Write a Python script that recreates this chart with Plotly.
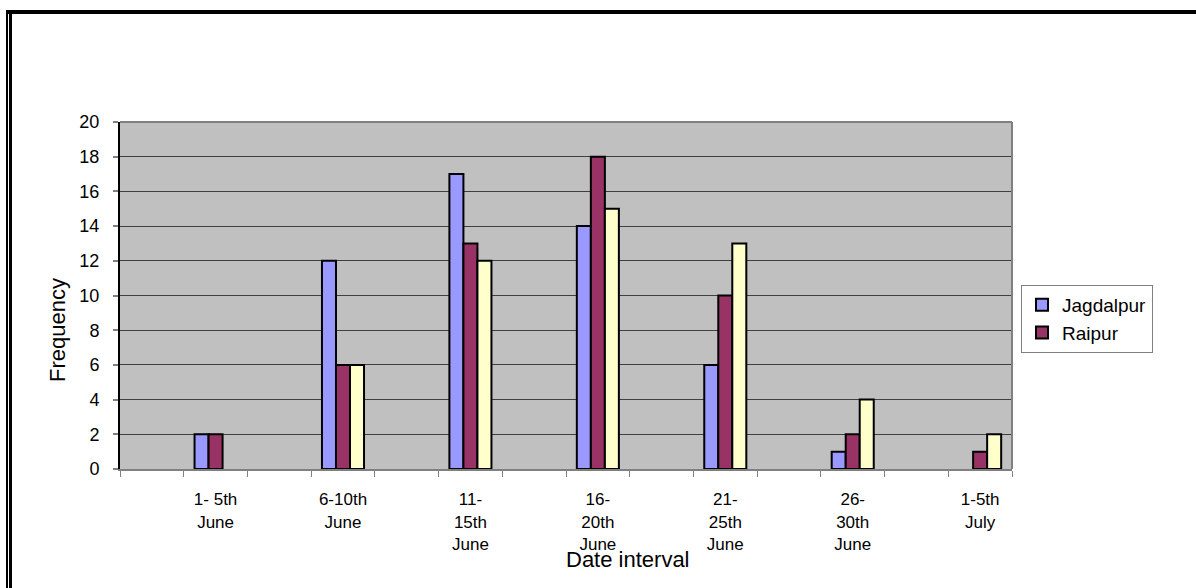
import plotly.graph_objects as go

# Date intervals (labelled slots alternate with empty slots on the axis)
intervals = ["1- 5th<br>June", "6-10th<br>June", "11-<br>15th<br>June", "16-<br>20th<br>June",
             "21-<br>25th<br>June", "26-<br>30th<br>June", "1-5th<br>July"]
jagdalpur = [2, 12, 17, 14, 6, 1, 0]
raipur = [2, 6, 13, 18, 10, 2, 1]
third_station = [0, 6, 12, 15, 13, 4, 2]

W, H = 1196, 588
L, R, T, B = 120, 1012, 122, 469
FONT = "Liberation Sans, Arial, sans-serif"

# each interval sits in the second of a pair of axis slots
slot_centers = [2 * i + 1.5 for i in range(len(intervals))]
BAR_W = 0.22  # width of one bar, in axis slots


def px(x):
    return (x - L) / (R - L)


def py(y):
    return (B - y) / (B - T)


def bar(name, vals, color, show, k):
    return go.Bar(
        name=name, x=slot_centers, y=vals, showlegend=show,
        width=BAR_W, offset=-1.5 * BAR_W + k * BAR_W,
        marker=dict(color=color,
                    line=dict(color="black", width=[0 if v == 0 else 2 for v in vals])),
    )


fig = go.Figure([
    bar("Jagdalpur", jagdalpur, "#9999FF", True, 0),
    bar("Raipur", raipur, "#993366", True, 1),
    bar("Station 3", third_station, "#FFFFCC", False, 2),
])

fig.update_layout(
    width=W, height=H,
    margin=dict(l=L, r=W - R, t=T, b=H - B, pad=0),
    paper_bgcolor="white", plot_bgcolor="#C0C0C0",
    font=dict(family=FONT, size=18, color="black"),
    barmode="overlay",
    legend=dict(x=px(1021), y=py(285), xanchor="left", yanchor="top",
                bgcolor="white", bordercolor="#808080", borderwidth=1,
                font=dict(size=19), itemwidth=30, tracegroupgap=0),
    xaxis=dict(range=[0, 14], tickmode="array", tickvals=slot_centers, ticktext=intervals,
               ticks="", showgrid=False, zeroline=False,
               showline=True, linecolor="#808080", linewidth=2,
               tickfont=dict(size=17), ticklabelstandoff=14,
               minor=dict(tickmode="array", tickvals=list(range(15)), ticks="outside",
                          ticklen=6, tickcolor="#808080", tickwidth=1, showgrid=False)),
    yaxis=dict(range=[0, 20], dtick=2, showgrid=True, gridcolor="#404040", gridwidth=1,
               zeroline=False, showline=True, linecolor="black", linewidth=2,
               ticks="outside", ticklen=5, tickcolor="#808080", tickwidth=2,
               tickfont=dict(size=18), ticklabelstandoff=10),
    annotations=[
        dict(text="Frequency", x=px(57), y=py(330), xref="paper", yref="paper",
             xanchor="center", yanchor="middle",
             textangle=-90, showarrow=False, font=dict(size=22)),
        dict(text="Date interval", x=px(628), y=py(559), xref="paper", yref="paper",
             xanchor="center", yanchor="middle",
             showarrow=False, font=dict(size=22)),
    ],
    shapes=[
        # plot frame (top and right)
        dict(type="line", xref="paper", yref="paper", x0=0, x1=1, y0=1, y1=1,
             line=dict(color="#808080", width=2)),
        dict(type="line", xref="paper", yref="paper", x0=1, x1=1, y0=0, y1=1,
             line=dict(color="#808080", width=2)),
        # page border
        dict(type="line", xref="paper", yref="paper", x0=px(6), x1=px(1200), y0=py(12), y1=py(12),
             line=dict(color="black", width=4)),
        dict(type="line", xref="paper", yref="paper", x0=px(7), x1=px(7), y0=py(10), y1=py(600),
             line=dict(color="black", width=2)),
        dict(type="line", xref="paper", yref="paper", x0=px(10.5), x1=px(10.5), y0=py(14), y1=py(600),
             line=dict(color="black", width=3)),
    ],
)

fig.write_html("out.html")
